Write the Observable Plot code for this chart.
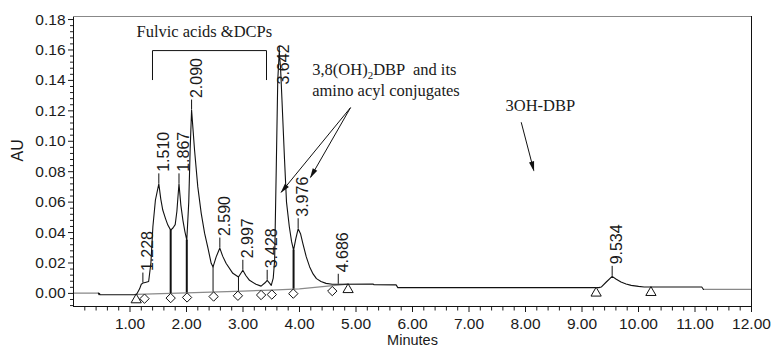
<!DOCTYPE html>
<html><head><meta charset="utf-8">
<script src="https://cdn.jsdelivr.net/npm/d3@7"></script>
<script src="https://cdn.jsdelivr.net/npm/@observablehq/plot@0.6"></script>
<style>
body{margin:0;background:#fff;}
#chart svg{display:block;}
</style></head><body><div id="chart"></div>
<script>
// ---- data ----
const traceTime = [0.44,0.45,0.46,0.47,1.08,1.12,1.17,1.20,1.228,1.27,1.33,1.37,1.405,1.45,1.51,1.545,1.58,1.63,1.67,1.72,1.76,1.80,1.83,1.848,1.867,1.90,1.936,1.97,2.005,2.04,2.065,2.09,2.115,2.142,2.20,2.26,2.32,2.38,2.437,2.47,2.525,2.59,2.64,2.70,2.82,2.92,2.997,3.05,3.115,3.23,3.32,3.39,3.428,3.47,3.50,3.535,3.56,3.59,3.615,3.642,3.665,3.69,3.735,3.77,3.82,3.86,3.895,3.935,3.976,4.02,4.06,4.12,4.18,4.24,4.30,4.38,4.47,4.58,4.686,5.30,5.32,5.71,5.74,9.30,9.34,9.43,9.534,9.60,9.69,9.78,9.87,10.0,10.10,11.12,11.15];
const traceAU = [0.0002,-0.0008,0.0000,-0.0009,-0.0009,-0.0004,0.0030,0.0060,0.0068,0.0072,0.0078,0.0200,0.0438,0.0614,0.0720,0.0620,0.0548,0.0490,0.0449,0.0416,0.0430,0.0452,0.0540,0.0630,0.0720,0.0580,0.0482,0.0410,0.0350,0.0600,0.0950,0.1205,0.1080,0.0944,0.0700,0.0528,0.0396,0.0297,0.0198,0.0174,0.0240,0.0298,0.0245,0.0198,0.0132,0.0108,0.0152,0.0118,0.0086,0.0060,0.0048,0.0070,0.0086,0.0068,0.0053,0.0100,0.0220,0.0850,0.1400,0.1590,0.1480,0.1270,0.0880,0.0600,0.0438,0.0340,0.0284,0.0360,0.0425,0.0390,0.0328,0.0240,0.0174,0.0128,0.0097,0.0078,0.0066,0.0060,0.0060,0.0062,0.0057,0.0056,0.0038,0.0038,0.0042,0.0075,0.0112,0.0095,0.0075,0.0062,0.0053,0.0046,0.0042,0.0042,0.0026];
const grayLeftTime = [0, 0.44];
const grayLeftAU = [0.0002, 0.0002];
const grayRightTime = [11.15, 12];
const grayRightAU = [0.0026, 0.0026];
const baseTime = [1.11, 2.0, 3.0, 3.5, 4.0, 4.86];
const baseAU = [-0.0006, 0.0003, 0.0015, 0.0022, 0.0030, 0.0061];
const peakTime = [1.228, 1.510, 1.867, 2.090, 2.590, 2.997, 3.428, 3.976, 4.686, 9.534];
const peakAU = [0.0068, 0.0720, 0.0720, 0.1205, 0.0298, 0.0152, 0.0086, 0.0425, 0.0060, 0.0112];
const peakLabel = ["1.228","1.510","1.867","2.090","2.590","2.997","3.428","3.976","4.686","9.534"];
const mainPeakTime = [3.642];
const mainPeakAU = [0.1590];
const mainPeakLabel = ["3.642"];
const diamondTime = [1.257, 1.72, 2.01, 2.48, 2.91, 3.32, 3.51, 3.89, 4.58];
const diamondAU = [-0.0005, -0.0001, 0.0003, 0.0009, 0.0014, 0.0019, 0.0022, 0.0028, 0.0045];
const triangleTime = [1.11, 4.86, 9.25, 10.22];
const triangleAU = [-0.0006, 0.0061, 0.0038, 0.0042];
const dropTime = [1.72, 2.005, 2.47, 2.92, 3.895];
const dropBottom = [-0.0001, 0.0003, 0.0009, 0.0014, 0.0028];
const dropTop = [0.0416, 0.0350, 0.0174, 0.0108, 0.0284];
const xTicks = [1,2,3,4,5,6,7,8,9,10,11,12];
const xTickLabels = ["1.00","2.00","3.00","4.00","5.00","6.00","7.00","8.00","9.00","10.00","11.00","12.00"];
const yTicks = [0,0.02,0.04,0.06,0.08,0.10,0.12,0.14,0.16,0.18];
const yTickLabels = ["0.00","0.02","0.04","0.06","0.08","0.10","0.12","0.14","0.16","0.18"];

// ---- layout ----
const W = 774, H = 348, mL = 73, mR = 23, mT = 16, mB = 42;
const xDom = [0, 12], yDom = [-0.0086, 0.182];
const pxX = (xDom[1]-xDom[0])/(W-mL-mR);
const pxY = (yDom[1]-yDom[0])/(H-mT-mB);
const minorX = d3.range(1, 60).filter(i => i % 5 !== 0).map(i => i/5);
const minorY = d3.range(-2, 46).filter(i => i % 5 !== 0).map(i => i*0.004);

const zip = (a, b) => a.map((t, i) => ({t, v: b[i]}));
const trace = zip(traceTime, traceAU);
const grayL = zip(grayLeftTime, grayLeftAU);
const grayR = zip(grayRightTime, grayRightAU);
const base = zip(baseTime, baseAU);
const peaks = peakTime.map((t,i)=>({t, v: peakAU[i], label: peakLabel[i]}));
const mainPeak = mainPeakTime.map((t,i)=>({t, v: mainPeakAU[i], label: mainPeakLabel[i]}));
const diamonds = zip(diamondTime, diamondAU);
const triangles = zip(triangleTime, triangleAU);
const drops = dropTime.map((t,i)=>({t, y1: dropBottom[i], y2: dropTop[i], w: [2,2,1,1,2][i]}));
const bracket = [{t:1.398,v:0.1405},{t:1.398,v:0.1596},{t:3.416,v:0.1596},{t:3.416,v:0.1405}];
const arrows = [
  {x1:4.903,y1:0.1221,x2:3.676,y2:0.0665},
  {x1:4.903,y1:0.1221,x2:4.195,y2:0.0763},
  {x1:7.924,y1:0.1125,x2:8.147,y2:0.0808}
];
const serif = "'Liberation Serif','Times New Roman',serif";
const sans = "'Liberation Sans',Arial,Helvetica,sans-serif";

const chart = Plot.plot({
  width: W, height: H,
  marginLeft: mL, marginRight: mR, marginTop: mT, marginBottom: mB,
  style: {fontFamily: sans, fontSize: "15.5px", color: "#1a1a1a", background: "#fff"},
  x: {domain: xDom, ticks: xTicks, tickFormat: d => xTickLabels[xTicks.indexOf(d)], tickSize: 6, tickPadding: 5, label: null},
  y: {domain: yDom, ticks: yTicks, tickFormat: d => yTickLabels[yTicks.indexOf(d)], tickSize: 5, tickPadding: 3, label: null},
  marks: [
    Plot.ruleX(minorX, {x: d => d, y1: yDom[0] - 0.8*pxY, y2: yDom[0] - 4.5*pxY, stroke: "#222"}),
    Plot.ruleY(minorY, {y: d => d, x1: xDom[0], x2: xDom[0] - 3*pxX, stroke: "#222"}),
    Plot.line(grayL, {x: "t", y: "v", stroke: "#888", strokeWidth: 1.2}),
    Plot.line(grayR, {x: "t", y: "v", stroke: "#888", strokeWidth: 1.2}),
    Plot.line(base, {x: "t", y: "v", stroke: "#8a8a8a", strokeWidth: 1.2}),
    Plot.line(trace, {x: "t", y: "v", stroke: "#111", strokeWidth: 1.1}),
    Plot.ruleX(drops, {x: "t", y1: "y1", y2: "y2", stroke: "#111", strokeWidth: d => d.w}),
    Plot.dot(diamonds, {x: "t", y: "v", symbol: "diamond2", r: 4.2, fill: "white", stroke: "#111", strokeWidth: 1, dy: 4.5}),
    Plot.dot(triangles, {x: "t", y: "v", symbol: "triangle", r: 3.8, fill: "white", stroke: "#111", strokeWidth: 1, dy: 5.5}),
    Plot.ruleX(peaks, {x: "t", y1: "v", y2: d => d.v + 10*pxY, stroke: "#111"}),
    Plot.ruleX(mainPeak, {x: "t", y1: "v", y2: d => d.v + 4*pxY, stroke: "#111"}),
    Plot.text(peaks, {x: "t", y: "v", text: "label", rotate: -90, textAnchor: "start", dy: -12, dx: 5, fontSize: 16, fill: "#1a1a1a"}),
    Plot.text(mainPeak, {x: "t", y: "v", text: "label", rotate: -90, textAnchor: "start", dy: 33, dx: 5, fontSize: 16, fill: "#1a1a1a"}),
    Plot.line(bracket, {x: "t", y: "v", stroke: "#111", strokeWidth: 1}),
    Plot.text(["Fulvic acids &DCPs"], {x: 1.115, y: 0.1685, textAnchor: "start", lineAnchor: "bottom", fontFamily: serif, fontSize: 16.5, fill: "#1a1a1a"}),
    Plot.text(["3,8(OH)2DBP  and its"], {x: 4.225, y: 0.1438, textAnchor: "start", lineAnchor: "bottom", fontFamily: serif, fontSize: 16.5, fill: "#1a1a1a"}),
    Plot.text(["amino acyl conjugates"], {x: 4.225, y: 0.1300, textAnchor: "start", lineAnchor: "bottom", fontFamily: serif, fontSize: 16.5, fill: "#1a1a1a"}),
    Plot.text(["3OH-DBP"], {x: 7.646, y: 0.1202, textAnchor: "start", lineAnchor: "bottom", fontFamily: serif, fontSize: 16.5, fill: "#1a1a1a"}),
    Plot.link(arrows, {x1: "x1", y1: "y1", x2: "x2", y2: "y2", stroke: "#111", strokeWidth: 1, markerEnd: "arrow"}),
    Plot.text(["AU"], {frameAnchor: "left", dx: -55.5, rotate: -90, fontSize: 16, fill: "#1a1a1a"}),
    Plot.text(["Minutes"], {frameAnchor: "bottom", dy: 38.5, lineAnchor: "bottom", fontSize: 14.5, fill: "#1a1a1a"}),
    Plot.frame({stroke: "#111"}),
    Plot.ruleY([yDom[1]], {stroke: "#888", strokeWidth: 1.2})
  ]
});
document.getElementById("chart").appendChild(chart);

// filled arrowheads
chart.querySelectorAll("marker").forEach(m => {
  m.setAttribute("viewBox", "-10 -5 12 10");
  m.setAttribute("markerWidth", 12);
  m.setAttribute("markerHeight", 10);
  m.setAttribute("fill", "#111");
  m.setAttribute("stroke", "none");
  m.innerHTML = '<path d="M-9,-2.6L1,0L-9,2.6Z"></path>';
});
// subscript 2 in 3,8(OH)2DBP
const ns = "http://www.w3.org/2000/svg";
chart.querySelectorAll("text").forEach(el => {
  if (el.textContent === "3,8(OH)2DBP  and its") {
    el.textContent = "";
    const a = document.createElementNS(ns, "tspan"); a.textContent = "3,8(OH)";
    const b = document.createElementNS(ns, "tspan"); b.textContent = "2"; b.setAttribute("dy", "4"); b.setAttribute("font-size", "11");
    const c = document.createElementNS(ns, "tspan"); c.textContent = "DBP  and its"; c.setAttribute("dy", "-4");
    el.append(a, b, c);
  }
});
</script></body></html>
